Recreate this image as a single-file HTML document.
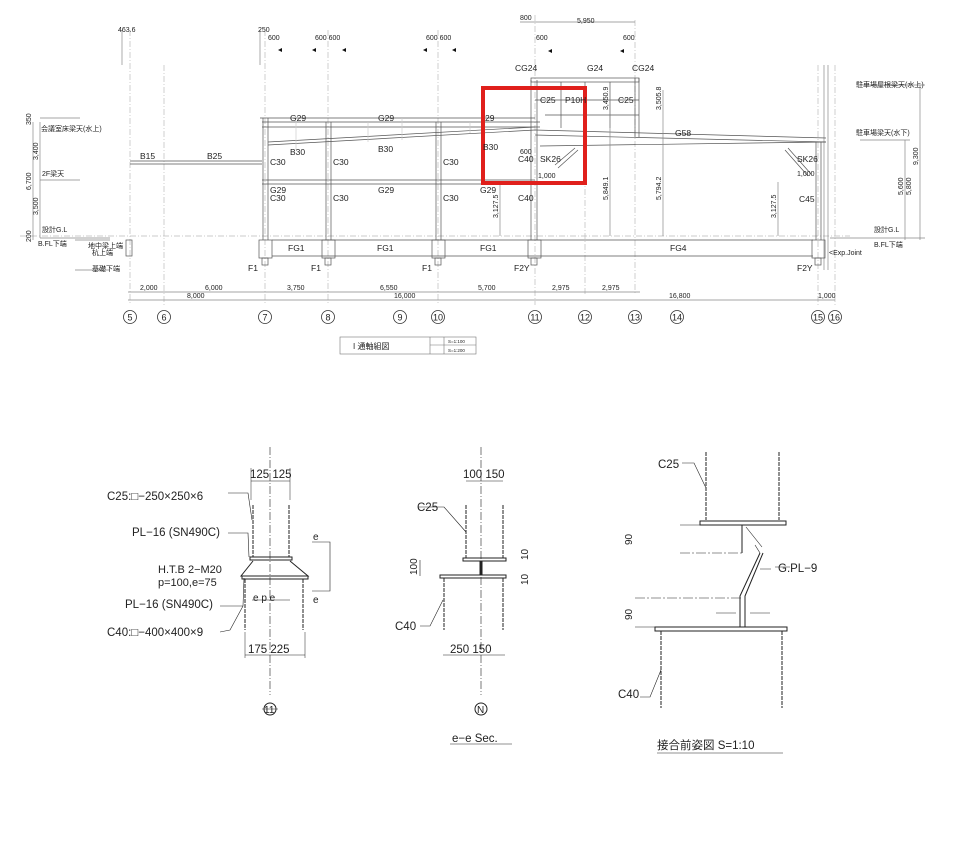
<!DOCTYPE html>
<html><head><meta charset="utf-8"><style>
body{margin:0;background:#fff}
svg{display:block}
text{font-family:"Liberation Sans","Noto Sans CJK JP",sans-serif;fill:#222}
.s{font-size:7px;fill:#444}
.m{font-size:8.5px}
</style></head><body>
<svg width="953" height="844" viewBox="0 0 953 844" xmlns="http://www.w3.org/2000/svg">
<g stroke="#888" stroke-width="0.7" fill="none">
 <g stroke="#bbb" stroke-dasharray="6 2 1 2">
  <line x1="130" y1="30" x2="130" y2="305"/><line x1="164" y1="65" x2="164" y2="305"/>
  <line x1="265" y1="30" x2="265" y2="305"/><line x1="328" y1="30" x2="328" y2="305"/>
  <line x1="438" y1="30" x2="438" y2="305"/><line x1="535" y1="15" x2="535" y2="305"/>
  <line x1="585" y1="90" x2="585" y2="295"/><line x1="635" y1="20" x2="635" y2="295"/>
  <line x1="818" y1="65" x2="818" y2="305"/><line x1="835" y1="65" x2="835" y2="305"/>
  <line x1="20" y1="236" x2="850" y2="236"/>
 </g>
 <line x1="824" y1="65" x2="824" y2="270"/><line x1="828" y1="65" x2="828" y2="270"/>
 <g stroke="#555">
 <line x1="260" y1="118" x2="535" y2="118"/>
 <line x1="262" y1="122" x2="540" y2="122"/><line x1="262" y1="127" x2="540" y2="127"/>
 <line x1="268" y1="145" x2="535" y2="130"/><line x1="268" y1="142" x2="535" y2="127"/>
 <line x1="262" y1="180" x2="535" y2="180"/><line x1="262" y1="184" x2="535" y2="184"/>
 <line x1="130" y1="161" x2="262" y2="161"/><line x1="130" y1="164" x2="262" y2="164"/>
 <line x1="263" y1="118" x2="263" y2="240"/><line x1="268" y1="118" x2="268" y2="240"/>
 <line x1="326" y1="122" x2="326" y2="240"/><line x1="331" y1="122" x2="331" y2="240"/>
 <line x1="436" y1="122" x2="436" y2="240"/><line x1="441" y1="122" x2="441" y2="240"/>
 <line x1="531" y1="80" x2="531" y2="240"/><line x1="537" y1="80" x2="537" y2="240"/>
 <line x1="816" y1="142" x2="816" y2="240"/><line x1="821" y1="142" x2="821" y2="240"/>
 <line x1="272" y1="240" x2="813" y2="240"/><line x1="272" y1="256" x2="813" y2="256"/>
 <rect x="259" y="240" width="13" height="18"/><rect x="322" y="240" width="13" height="18"/>
 <rect x="432" y="240" width="13" height="18"/><rect x="528" y="240" width="13" height="18"/>
 <rect x="812" y="240" width="13" height="18"/>
 <rect x="262" y="258" width="6" height="7"/><rect x="325" y="258" width="6" height="7"/>
 <rect x="435" y="258" width="6" height="7"/><rect x="531" y="258" width="6" height="7"/>
 <rect x="815" y="258" width="6" height="7"/>
 <rect x="126" y="240" width="6" height="16"/>
 <rect x="531" y="78" width="108" height="4"/>
 <line x1="535" y1="100" x2="639" y2="100"/><line x1="545" y1="115" x2="639" y2="115"/>
 <line x1="561" y1="82" x2="561" y2="128"/><line x1="585" y1="82" x2="585" y2="128"/>
 <line x1="610" y1="82" x2="610" y2="128"/>
 <line x1="635" y1="78" x2="635" y2="137"/><line x1="639" y1="78" x2="639" y2="137"/>
 <line x1="535" y1="130" x2="826" y2="138"/><line x1="535" y1="135" x2="826" y2="142"/>
 <line x1="540" y1="146" x2="826" y2="142"/>
 <line x1="555" y1="165" x2="575" y2="148"/><line x1="558" y1="168" x2="578" y2="150"/>
 <line x1="785" y1="150" x2="808" y2="176"/><line x1="788" y1="148" x2="811" y2="174"/>
 </g>
 <g stroke="#ccc"><line x1="296" y1="122" x2="296" y2="150"/><line x1="368" y1="122" x2="368" y2="142"/><line x1="402" y1="118" x2="402" y2="140"/><line x1="470" y1="122" x2="470" y2="133"/></g>
 <line x1="128" y1="292" x2="640" y2="292"/><line x1="128" y1="300" x2="835" y2="300"/>
 <line x1="520" y1="22" x2="635" y2="22"/>
 <line x1="122" y1="30" x2="122" y2="65"/><line x1="260" y1="30" x2="260" y2="65"/>
 <line x1="40" y1="118" x2="80" y2="118"/><line x1="40" y1="180" x2="80" y2="180"/>
 <line x1="40" y1="238" x2="110" y2="238"/><line x1="33" y1="122" x2="33" y2="240"/><line x1="40" y1="122" x2="40" y2="238"/>
 <line x1="75" y1="240" x2="110" y2="240"/><line x1="75" y1="270" x2="110" y2="270"/>
 <line x1="860" y1="85" x2="925" y2="85"/><line x1="860" y1="140" x2="910" y2="140"/>
 <line x1="830" y1="238" x2="925" y2="238"/><line x1="905" y1="140" x2="905" y2="240"/><line x1="920" y1="85" x2="920" y2="240"/>
 <line x1="610" y1="90" x2="610" y2="236"/><line x1="663" y1="90" x2="663" y2="236"/>
 <line x1="500" y1="185" x2="500" y2="236"/><line x1="778" y1="182" x2="778" y2="236"/>
</g>
<g fill="#111"><path d="M278 50 l4 -2 v4z"/><path d="M312 50 l4 2 v-4z"/><path d="M342 50 l4 -2 v4z"/><path d="M423 50 l4 2 v-4z"/><path d="M452 50 l4 -2 v4z"/><path d="M548 51 l4 -2 v4z"/><path d="M620 51 l4 2 v-4z"/></g>
<rect x="483" y="88" width="102" height="95" fill="none" stroke="#e0201c" stroke-width="4"/>
<g class="m">
<text x="290" y="121">G29</text><text x="378" y="121">G29</text><text x="485" y="121">29</text>
<text x="290" y="155">B30</text><text x="378" y="152">B30</text><text x="483" y="150">B30</text>
<text x="270" y="165">C30</text><text x="333" y="165">C30</text><text x="443" y="165">C30</text>
<text x="270" y="193">G29</text><text x="378" y="193">G29</text><text x="480" y="193">G29</text>
<text x="270" y="201">C30</text><text x="333" y="201">C30</text><text x="443" y="201">C30</text>
<text x="518" y="162">C40</text><text x="518" y="201">C40</text><text x="540" y="162">SK26</text>
<text x="540" y="103">C25</text><text x="565" y="103">P10H</text><text x="618" y="103">C25</text>
<text x="515" y="71">CG24</text><text x="587" y="71">G24</text><text x="632" y="71">CG24</text>
<text x="675" y="136">G58</text><text x="797" y="162">SK26</text><text x="799" y="202">C45</text>
<text x="140" y="159">B15</text><text x="207" y="159">B25</text>
<text x="288" y="251">FG1</text><text x="377" y="251">FG1</text><text x="480" y="251">FG1</text><text x="670" y="251">FG4</text>
<text x="248" y="271">F1</text><text x="311" y="271">F1</text><text x="422" y="271">F1</text><text x="514" y="271">F2Y</text><text x="797" y="271">F2Y</text>
</g>
<g class="s">
<text x="118" y="32">463.6</text><text x="258" y="32">250</text><text x="520" y="20">800</text><text x="577" y="23">5,950</text>
<text x="268" y="40">600</text><text x="315" y="40">600 600</text><text x="426" y="40">600 600</text><text x="536" y="40">600</text><text x="623" y="40">600</text>
<text x="140" y="290">2,000</text><text x="205" y="290">6,000</text><text x="287" y="290">3,750</text><text x="380" y="290">6,550</text>
<text x="478" y="290">5,700</text><text x="552" y="290">2,975</text><text x="602" y="290">2,975</text>
<text x="187" y="298">8,000</text><text x="394" y="298">16,000</text><text x="669" y="298">16,800</text><text x="818" y="298">1,000</text>
<text x="41" y="131">会議室床梁天(水上)</text><text x="42" y="176">2F梁天</text><text x="42" y="232">設計G.L</text><text x="38" y="246">B.FL下端</text>
<text x="88" y="248">地中梁上端</text><text x="92" y="255">杭上端</text><text x="92" y="271">基礎下端</text>
<text x="856" y="87">駐車場屋根梁天(水上)</text><text x="856" y="135">駐車場梁天(水下)</text><text x="874" y="232">設計G.L</text><text x="874" y="247">B.FL下端</text>
<text x="829" y="255">&lt;Exp.Joint</text><text x="538" y="178">1,000</text><text x="797" y="176">1,000</text><text x="520" y="154">600</text>
</g>
<g class="s" font-size="6">
<text transform="translate(38 160) rotate(-90)">3,400</text><text transform="translate(31 190) rotate(-90)">6,700</text><text transform="translate(38 215) rotate(-90)">3,500</text>
<text transform="translate(31 125) rotate(-90)">350</text><text transform="translate(31 242) rotate(-90)">200</text>
<text transform="translate(608 110) rotate(-90)">3,450.9</text><text transform="translate(661 110) rotate(-90)">3,505.8</text>
<text transform="translate(608 200) rotate(-90)">5,849.1</text><text transform="translate(661 200) rotate(-90)">5,794.2</text>
<text transform="translate(498 218) rotate(-90)">3,127.5</text><text transform="translate(776 218) rotate(-90)">3,127.5</text>
<text transform="translate(903 195) rotate(-90)">5,600</text><text transform="translate(911 195) rotate(-90)">5,800</text><text transform="translate(918 165) rotate(-90)">9,300</text>
</g>
<g fill="none" stroke="#333" stroke-width="0.8">
<circle cx="130" cy="317" r="6.5"/><circle cx="164" cy="317" r="6.5"/><circle cx="265" cy="317" r="6.5"/><circle cx="328" cy="317" r="6.5"/>
<circle cx="400" cy="317" r="6.5"/><circle cx="438" cy="317" r="6.5"/><circle cx="535" cy="317" r="6.5"/><circle cx="585" cy="317" r="6.5"/>
<circle cx="635" cy="317" r="6.5"/><circle cx="677" cy="317" r="6.5"/><circle cx="818" cy="317" r="6.5"/><circle cx="835" cy="317" r="6.5"/>
</g>
<g font-size="9" text-anchor="middle">
<text x="130" y="320.5">5</text><text x="164" y="320.5">6</text><text x="265" y="320.5">7</text><text x="328" y="320.5">8</text><text x="400" y="320.5">9</text><text x="438" y="320.5">10</text>
<text x="535" y="320.5">11</text><text x="585" y="320.5">12</text><text x="635" y="320.5">13</text><text x="677" y="320.5">14</text><text x="818" y="320.5">15</text><text x="835" y="320.5">16</text>
</g>
<g fill="none" stroke="#777" stroke-width="0.6"><rect x="340" y="337" width="136" height="17"/><line x1="430" y1="337" x2="430" y2="354"/><line x1="444" y1="337" x2="444" y2="354"/><line x1="430" y1="345" x2="476" y2="345"/></g>
<text x="353" y="349" font-size="8">I 通軸組図</text><text x="448" y="343" font-size="4.5">S=1:100</text><text x="448" y="352" font-size="4.5">S=1:200</text>

<g stroke="#222" stroke-width="1" fill="none">
 <line x1="270" y1="447" x2="270" y2="695" stroke-dasharray="8 2 1 2" stroke-width="0.6"/>
 <line x1="253" y1="505" x2="253" y2="557" stroke-dasharray="4 1"/><line x1="289" y1="505" x2="289" y2="557" stroke-dasharray="4 1"/>
 <rect x="250" y="557" width="42" height="3"/>
 <path d="M253 561 L241 576 L308 576 L290 561"/><rect x="242" y="576" width="66" height="3"/>
 <line x1="245" y1="579" x2="245" y2="630" stroke-dasharray="4 1"/><line x1="303" y1="579" x2="303" y2="630" stroke-dasharray="4 1"/>
 <line x1="251" y1="481" x2="290" y2="481" stroke-width="0.6"/><line x1="245" y1="655" x2="305" y2="655" stroke-width="0.6"/>
 <line x1="251" y1="468" x2="251" y2="500" stroke-width="0.5"/><line x1="290" y1="468" x2="290" y2="500" stroke-width="0.5"/>
 <line x1="245" y1="632" x2="245" y2="658" stroke-width="0.5"/><line x1="305" y1="632" x2="305" y2="658" stroke-width="0.5"/>
 <line x1="252" y1="600" x2="290" y2="600" stroke-width="0.5"/>
 <path d="M312 542 H330 V591 H312" stroke-width="0.6"/>
 <path d="M228 493 H248 L252 520 M228 533 L248 533 L249 557 M220 606 L243 606 L244 578 M220 632 L230 630 L243 606" stroke-width="0.6"/>
 <circle cx="270" cy="709" r="6"/><line x1="262" y1="709" x2="278" y2="709" stroke-width="0.5"/>
 <line x1="481" y1="447" x2="481" y2="695" stroke-dasharray="8 2 1 2" stroke-width="0.6"/>
 <line x1="466" y1="505" x2="466" y2="558" stroke-dasharray="4 1"/><line x1="503" y1="505" x2="503" y2="558" stroke-dasharray="4 1"/>
 <rect x="463" y="558" width="43" height="3"/><rect x="440" y="575" width="66" height="3"/>
 <line x1="444" y1="578" x2="444" y2="630" stroke-dasharray="4 1"/><line x1="503" y1="578" x2="503" y2="630" stroke-dasharray="4 1"/>
 <line x1="481" y1="561" x2="481" y2="575" stroke-width="3"/>
 <line x1="443" y1="655" x2="505" y2="655" stroke-width="0.6"/><line x1="466" y1="481" x2="503" y2="481" stroke-width="0.6"/>
 <path d="M418 507 H444 L466 532 M420 626 H430 L443 600" stroke-width="0.6"/>
 <circle cx="481" cy="709" r="6"/><line x1="450" y1="744" x2="512" y2="744" stroke-width="0.6"/>
 <line x1="420" y1="560" x2="420" y2="576" stroke-width="0.6"/>
 <line x1="706" y1="452" x2="706" y2="520" stroke-dasharray="4 1"/><line x1="779" y1="452" x2="779" y2="520" stroke-dasharray="4 1"/>
 <rect x="700" y="521" width="86" height="4"/><rect x="655" y="627" width="132" height="4"/>
 <line x1="661" y1="631" x2="661" y2="708" stroke-dasharray="4 1"/><line x1="782" y1="631" x2="782" y2="708" stroke-dasharray="4 1"/>
 <line x1="742" y1="525" x2="742" y2="553"/><path d="M760 553 L740 596 L740 627 M763 553 L745 596 L745 627"/>
 <line x1="680" y1="553" x2="742" y2="553" stroke-dasharray="10 2 2 2" stroke-width="0.6"/>
 <line x1="635" y1="598" x2="742" y2="598" stroke-dasharray="10 2 2 2" stroke-width="0.6"/>
 <line x1="680" y1="525" x2="700" y2="525" stroke-width="0.6"/><line x1="635" y1="627" x2="655" y2="627" stroke-width="0.6"/>
 <path d="M760 569 H771 M746 527 L762 547 M755 545 L760 553 M775 567 H790" stroke-width="0.6"/>
 <path d="M716 613 H736 M750 613 H770" stroke-width="0.6"/>
 <path d="M682 463 H694 L706 488 M640 697 H650 L661 670" stroke-width="0.6"/>
 <line x1="657" y1="753" x2="783" y2="753" stroke-width="0.6"/>
</g>
<g font-size="11.5" fill="#111">
<text x="107" y="500">C25:□−250×250×6</text><text x="132" y="536">PL−16 (SN490C)</text>
<text x="158" y="573" font-size="11">H.T.B 2−M20</text><text x="158" y="586" font-size="11">p=100,e=75</text>
<text x="125" y="608">PL−16 (SN490C)</text><text x="107" y="636">C40:□−400×400×9</text>
<text x="250" y="478">125 125</text><text x="248" y="653">175  225</text>
<text x="253" y="601" font-size="10">e p e</text><text x="313" y="540" font-size="10">e</text><text x="313" y="603" font-size="10">e</text>
<text x="264" y="713" font-size="10">11</text>
<text x="417" y="511">C25</text><text x="395" y="630">C40</text><text x="463" y="478">100 150</text><text x="450" y="653">250 150</text>
<text x="477" y="713" font-size="10">N</text><text x="452" y="742">e−e  Sec.</text>
<text x="658" y="468">C25</text><text x="618" y="698">C40</text><text x="778" y="572">G.PL−9</text>
<text x="657" y="749">接合前姿図    S=1:10</text>
</g>
<g font-size="10" fill="#111">
<text transform="translate(632 545) rotate(-90)">90</text><text transform="translate(632 620) rotate(-90)">90</text>
<text transform="translate(417 575) rotate(-90)">100</text><text transform="translate(528 560) rotate(-90)">10</text><text transform="translate(528 585) rotate(-90)">10</text>
</g>
</svg>
</body></html>
